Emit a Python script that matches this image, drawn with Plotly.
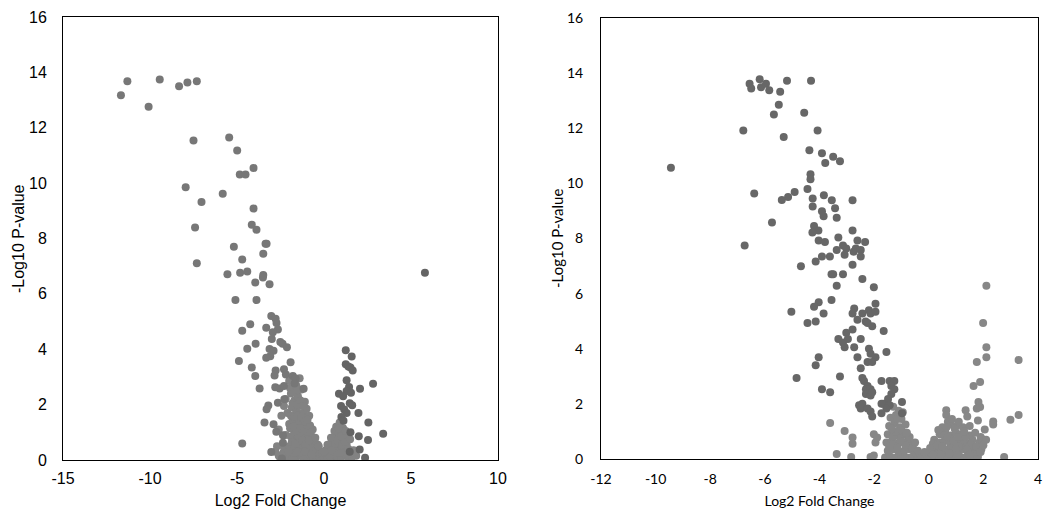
import plotly.graph_objects as go

# ---------------- Left panel data ----------------
left_mid_x = [-11.67, -11.3, -10.08, -9.44, -8.33, -7.85, -7.31, -7.5, -5.45, -4.99, -4.05, -4.84, -4.51,
              -7.95, -5.82, -7.04, -4.05, -7.41, -4.15, -3.88, -3.36, -3.3, -5.18, -3.49, -4.70, -7.31,
              -5.55, -4.82, -4.41, -3.49, -3.51, -3.95, -3.13, -5.09, -3.88,
              -3.03, -2.78, -2.73, -4.24, -4.70, -3.32, -2.65, -2.94, -3.0, -2.51, -2.38, -2.13, -4.41,
              -3.93, -3.13, -2.9, -3.09, -3.32, -4.89, -1.92, -4.15, -3.95, -2.78, -2.84, -2.3, -2.19,
              -1.79, -1.63, -1.69, -3.7, -2.8, -2.55, -2.3, -1.17, -2.28, -2.65, -3.2, -3.3, -3.42,
              -2.9, -2.74, -2.36, -2.36, -3.03, -2.42, -4.7]
left_mid_y = [13.17, 13.68, 12.76, 13.74, 13.5, 13.63, 13.68, 11.54, 11.65, 11.18, 10.55, 10.31, 10.31,
              9.85, 9.62, 9.32, 9.08, 8.40, 8.50, 8.32, 7.81, 7.81, 7.70, 7.45, 7.24, 7.11,
              6.71, 6.76, 6.81, 6.68, 6.59, 6.41, 6.35, 5.78, 5.78,
              5.2, 5.1, 4.95, 4.9, 4.67, 4.78, 4.71, 4.61, 4.37, 4.26, 4.2, 4.07, 4.02,
              4.2, 4.01, 3.95, 3.75, 3.69, 3.58, 3.53, 3.34, 3.03, 3.23, 3.05, 3.28, 3.09,
              3.03, 2.94, 2.76, 2.58, 2.63, 2.58, 2.67, 2.57, 2.19, 2.07, 1.97, 1.83, 1.35,
              1.29, 1.02, 0.89, 0.62, 0.29, 0.05, 0.6]

left_dark_x = [5.80, 1.25, 1.59, 1.25, 1.4, 1.52, 1.65, 1.3, 1.44, 1.3, 2.07, 2.82, 1.55, 0.86, 1.1,
               1.48, 1.62, 0.98, 1.16, 1.3, 1.0, 1.12, 1.98, 2.55, 3.4, 2.0, 2.53, 1.52, 2.36, 1.48, 2.05]
left_dark_y = [6.76, 3.96, 3.74, 3.46, 3.38, 3.34, 3.23, 2.88, 2.64, 2.49, 2.57, 2.75, 2.43, 2.39, 2.3,
               2.05, 1.98, 1.95, 1.82, 1.7, 1.55, 1.42, 1.7, 1.35, 0.95, 0.86, 0.72, 1.0, 0.08, 0.3, 0.38]

left_light_x = [-2.5, -2.2, -2.0, -1.8, -1.6, -1.4, -1.2, -1.0, -0.8, -0.6, -0.4, -0.2, 0.0, 0.2, 0.4,
                0.6, 0.8, 1.0, 1.2, 1.4, 1.6,
                -2.3, -2.0, -1.7, -1.5, -1.3, -1.1, -0.9, -0.7, -0.5, -0.3, 0.3, 0.5, 0.7, 0.9, 1.1, 1.3,
                -2.2, -1.9, -1.7, -1.5, -1.3, -1.1, -0.9, -0.7, -0.55, 0.5, 0.7, 0.9, 1.1, 1.3,
                -2.0, -1.8, -1.6, -1.4, -1.2, -1.0, -0.8, -0.65, 0.7, 0.9, 1.1,
                -2.1, -1.85, -1.6, -1.4, -1.2, -1.0, -0.85,
                -2.2, -1.9, -1.7, -1.5, -1.3, -1.1,
                -2.0, -1.6, -1.4,
                -1.45, -1.25, -1.05, -0.95, -1.75, -1.55, -1.15, -0.75, -0.45, -0.35, 0.15, 0.35, 0.55,
                0.75, 0.95, 1.15, -0.25, 0.45, 0.65, 0.85,
                -2.35, -2.05, -1.85, -1.65, -1.45, -1.25, -1.05, -0.85, -0.65, -1.95, -1.75, -1.55, -1.35,
                -1.15, -0.95, -0.75, -1.9, -1.7, -1.5, -1.3, -1.1, -0.95, -1.8, -1.55, -1.35, -1.2, -1.95,
                -1.75, -1.5, -2.45, -2.6, -2.7, -2.3, -0.5, -0.3, -0.1, 0.1, 0.2, 0.4, 0.45, 0.6, 0.65,
                0.85, 0.8, 1.0, 1.05, 1.2, 1.25, 1.4, 1.5, 1.7, 1.85, -2.6, -2.8, -1.5, -1.1, -0.7, 0.0,
                0.95, 1.35]
left_light_y = [0.05, 0.1, 0.15, 0.05, 0.1, 0.2, 0.05, 0.1, 0.15, 0.05, 0.1, 0.05, 0.08, 0.1, 0.05,
                0.15, 0.05, 0.1, 0.2, 0.05, 0.1,
                0.45, 0.5, 0.4, 0.55, 0.45, 0.6, 0.4, 0.5, 0.35, 0.3, 0.3, 0.5, 0.45, 0.6, 0.4, 0.55,
                0.9, 0.85, 1.0, 0.8, 0.95, 0.85, 1.0, 0.8, 0.7, 0.8, 0.95, 0.85, 1.0, 0.8,
                1.3, 1.45, 1.25, 1.4, 1.3, 1.5, 1.25, 1.1, 1.2, 1.35, 1.15,
                1.7, 1.9, 1.75, 1.95, 1.7, 1.85, 1.6,
                2.2, 2.4, 2.15, 2.3, 2.55, 2.1,
                2.85, 2.7, 2.95,
                0.25, 0.7, 0.35, 1.2, 0.25, 0.65, 1.05, 0.25, 0.2, 0.55, 0.3, 0.2, 0.3,
                0.25, 0.3, 0.65, 0.25, 0.7, 0.6, 1.0,
                0.25, 0.3, 0.65, 0.6, 0.85, 0.7, 0.55, 0.7, 0.3, 1.15, 1.2, 1.05, 1.15,
                1.05, 1.25, 1.0, 1.6, 1.55, 1.6, 1.55, 1.4, 1.45, 2.05, 2.0, 2.15, 1.95, 2.6,
                2.45, 2.55, 1.6, 1.1, 0.5, 1.95, 0.8, 0.5, 0.25, 0.35, 0.55, 0.8, 0.35, 1.05, 0.6,
                1.15, 0.7, 0.85, 0.55, 0.65, 1.05, 0.4, 0.75, 0.35, 0.15, 0.15, 0.3, 0.3, 0.3, 0.2, 0.3,
                0.25, 0.2]

# ---------------- Right panel data ----------------
right_dark_x = [-9.44, -6.79, -6.74, -6.39, -5.74, -6.56, -6.5, -6.19, -6.14, -5.96, -5.84, -5.44, -5.19,
                -4.31, -5.49, -5.67, -4.56, -4.07, -5.31, -4.37, -3.91, -3.79, -3.5, -3.25, -4.33, -4.33,
                -4.44, -4.91, -5.15, -5.38, -4.25, -3.84, -3.55, -2.79, -4.25, -3.91, -3.85, -3.43, -3.37,
                -4.2, -4.04, -4.26, -2.79, -3.31, -4.03, -3.8, -2.61, -2.33, -3.14, -3.02, -3.37, -3.08,
                -2.75, -2.67, -2.49, -2.49, -3.91, -3.62, -4.14, -4.68, -2.79, -3.56, -3.5, -3.14, -2.43,
                -3.37, -2.01, -3.56, -4.03, -4.2, -1.95, -5.03, -3.85, -2.73, -2.79, -2.43, -2.19, -2.13,
                -1.95, -2.61, -2.31, -2.07, -2.24, -4.44, -4.14, -2.79, -3.02, -2.96, -3.31, -3.14, -3.08,
                -2.49, -1.65, -2.73, -2.19, -2.13, -1.95, -2.24, -2.07, -1.55, -2.61, -4.03, -4.14, -2.49,
                -3.25, -4.84, -2.43, -2.37, -2.24, -2.3, -2.13, -2.3, -2.13, -2.07, -3.91, -3.61,
                -1.73, -1.43, -1.26, -1.37, -1.26, -1.37, -1.49, -1.66, -1.73, -1.43, -1.55, -1.73,
                -0.98, -0.98, -2.55, -2.49, -2.43, -2.24, -2.13, -2.07]
right_dark_y = [10.57, 11.92, 7.75, 9.63, 8.58, 13.61, 13.44, 13.78, 13.49, 13.61, 13.38, 13.32, 13.72,
                13.72, 12.85, 12.5, 12.56, 11.92, 11.68, 11.2, 11.09, 10.74, 10.97, 10.8, 10.33, 10.15,
                9.8, 9.69, 9.51, 9.4, 9.45, 9.57, 9.39, 9.39, 9.16, 8.99, 8.81, 9.1, 8.75,
                8.45, 8.29, 8.22, 8.29, 8.04, 7.93, 7.87, 7.93, 7.87, 7.75, 7.64, 7.58, 7.41,
                7.52, 7.64, 7.58, 7.35, 7.35, 7.35, 7.17, 6.99, 7.05, 6.7, 6.7, 6.7, 6.53,
                6.29, 6.23, 5.77, 5.69, 5.52, 5.63, 5.34, 5.28, 5.46, 5.28, 5.28, 5.4, 5.28,
                5.34, 5.05, 4.99, 4.82, 4.93, 4.93, 4.99, 4.7, 4.58, 4.35, 4.35, 4.23, 4.05,
                4.35, 4.64, 4.05, 4.0, 3.82, 3.69, 3.52, 3.52, 3.88, 3.69, 3.69, 3.4, 3.29,
                2.99, 2.94, 2.94, 2.83, 2.65, 2.53, 2.53, 2.36, 2.3, 2.42, 2.53, 2.42,
                2.83, 2.83, 2.83, 2.65, 2.53, 2.36, 2.18, 2.0, 2.0, 1.95, 1.83, 1.66,
                2.07, 1.66, 1.95, 1.83, 2.0, 1.83, 1.72, 1.54]

right_light_x = [2.11, 1.99, 2.11, 2.11, 1.76, 3.29, 1.88, 1.64, 1.82, 1.76, 1.88, 1.35, 1.41, 0.64, 0.64,
                 3.29, 2.99, 2.36, 2.36, 2.05, 1.99, 2.76, 1.93,
                 -3.61, -3.08, -2.79, -2.79, -3.37, -2.84, -2.01, -1.95, -1.89, -2.13, -2.01,
                 -1.6, -1.4, -1.2, -1.0, -0.8, -0.6, -0.4, -0.2, 0.0, 0.2, 0.4, 0.6, 0.8, 1.0, 1.2, 1.4, 1.6, 1.8,
                 -1.5, -1.3, -1.1, -0.9, -0.7, -0.5, 0.1, 0.3, 0.5, 0.7, 0.9, 1.1, 1.3, 1.5, 1.7,
                 -1.55, -1.35, -1.15, -0.95, -0.75, -0.55, 0.2, 0.4, 0.6, 0.8, 1.0, 1.2, 1.4, 1.6, 1.85,
                 -1.5, -1.3, -1.1, -0.9, -0.7, 0.4, 0.6, 0.8, 1.0, 1.2, 1.5, 1.7, 1.9, 2.1,
                 -1.45, -1.25, -1.05, -0.85, 0.5, 0.8, 1.0, 1.25, 1.5,
                 -1.4, -1.2, -1.0, 0.7, 1.8,
                 -1.1, -0.95, -1.25, -1.05, -0.65, -0.45, -0.3, 0.25, 0.45, 0.9, 1.1, 1.3, 0.15, 0.55, 1.65,
                 -1.45, -1.3, -1.15, -1.0, -0.85, -0.6, -0.4, -0.15, 0.05, 0.3, 0.5, 0.7, 0.9, 1.1, 1.35,
                 1.55, 1.75, 0.6, 1.0, 1.4, -1.2, -1.0, -0.8, -1.35, 0.35, 0.65, 0.95, 1.1, 1.3, 0.85,
                 -1.3, -1.15, 0.15, 0.45, 0.75, 1.05, 1.5, 1.9, 2.0, -0.5]
right_light_y = [6.29, 4.93, 4.05, 3.69, 3.52, 3.59, 2.79, 2.65, 2.07, 1.83, 1.89, 1.77, 1.54, 1.77, 1.6,
                 1.6, 1.42, 1.36, 1.25, 1.07, 0.71, 0.07, 0.36,
                 1.31, 1.02, 0.78, 0.55, 0.18, 0.07, 0.9, 0.6, 0.78, 0.07, 0.13,
                 0.05, 0.08, 0.05, 0.1, 0.05, 0.08, 0.05, 0.1, 0.05, 0.08, 0.05, 0.1, 0.05, 0.08, 0.05, 0.1, 0.05, 0.08,
                 0.3, 0.35, 0.25, 0.3, 0.35, 0.25, 0.2, 0.3, 0.25, 0.35, 0.3, 0.25, 0.35, 0.3, 0.25,
                 0.6, 0.65, 0.55, 0.6, 0.7, 0.55, 0.7, 0.6, 0.65, 0.55, 0.7, 0.6, 0.55, 0.7, 0.6,
                 0.9, 0.95, 0.85, 0.9, 0.8, 0.9, 1.0, 0.85, 0.95, 0.9, 0.85, 0.95, 0.8, 0.7,
                 1.2, 1.3, 1.15, 1.25, 1.15, 1.25, 1.2, 1.15, 1.2,
                 1.5, 1.6, 1.45, 1.35, 1.4,
                 1.75, 1.7, 0.45, 0.75, 0.45, 0.2, 0.15, 0.45, 0.4, 0.45, 0.45, 0.7, 0.55, 0.85, 0.45,
                 0.45, 0.8, 0.4, 0.65, 0.5, 0.4, 0.3, 0.25, 0.4, 0.5, 0.45, 0.8, 0.65, 0.8, 0.8,
                 0.5, 0.45, 0.25, 0.35, 0.35, 1.0, 1.05, 0.95, 1.1, 1.05, 1.15, 1.1, 1.35, 1.0, 1.45,
                 1.9, 1.45, 0.15, 0.15, 0.2, 0.15, 0.15, 0.25, 0.5, 0.6]

x_ticks_left = [-15, -10, -5, 0, 5, 10]
x_ticks_right = [-12, -10, -8, -6, -4, -2, 0, 2, 4]
y_ticks = [0, 2, 4, 6, 8, 10, 12, 14, 16]
x_title = "Log2 Fold Change"
y_title = "-Log10 P-value"

W, H = 1047, 515
fig = go.Figure()

def add(x, y, color, xa, ya):
    fig.add_trace(go.Scatter(x=x, y=y, mode="markers", xaxis=xa, yaxis=ya, showlegend=False,
                             marker=dict(size=8, color=color, line=dict(width=0)), cliponaxis=True))

add(left_light_x, left_light_y, "#828282", "x", "y")
add(left_mid_x, left_mid_y, "#777777", "x", "y")
add(left_dark_x, left_dark_y, "#646464", "x", "y")
add(right_light_x, right_light_y, "#878787", "x2", "y2")
add(right_dark_x, right_dark_y, "#676767", "x2", "y2")

lfont = dict(family="Liberation Sans, Arial", size=16, color="#000000")
rfont = dict(family="Lato, Calibri", size=14, color="#000000")
rtitle_y = dict(family="Lato, Calibri", size=15, color="#000000")

def ax_common():
    return dict(showgrid=False, zeroline=False, showline=True, linecolor="#000000", linewidth=1,
                mirror=True, ticks="", fixedrange=True, automargin=False)

def labels(v):
    return [str(t) for t in v]

fig.update_layout(
    width=W, height=H, margin=dict(l=0, r=0, t=0, b=0),
    paper_bgcolor="#ffffff", plot_bgcolor="#ffffff",
    xaxis=dict(domain=[63 / W, 498 / W], range=[-15, 10], tickvals=x_ticks_left,
               ticktext=labels(x_ticks_left), tickfont=lfont,
               title=dict(text=x_title, font=lfont, standoff=8), anchor="y",
               ticklabelstandoff=4, **ax_common()),
    yaxis=dict(domain=[(H - 460) / H, (H - 17) / H], range=[0, 16], tickvals=y_ticks,
               ticktext=labels(y_ticks), tickfont=lfont, anchor="x",
               ticklabelstandoff=12, **ax_common()),
    xaxis2=dict(domain=[601 / W, 1038 / W], range=[-12, 4], tickvals=x_ticks_right,
                ticktext=labels(x_ticks_right), tickfont=rfont,
                title=dict(text=x_title, font=rfont, standoff=10), anchor="y2",
                ticklabelstandoff=7, **ax_common()),
    yaxis2=dict(domain=[(H - 459) / H, (H - 18) / H], range=[0, 16], tickvals=y_ticks,
                ticktext=labels(y_ticks), tickfont=rfont, anchor="x2",
                ticklabelstandoff=14, **ax_common()),
    annotations=[
        dict(text=y_title, font=lfont, textangle=-90, xref="paper", yref="paper",
             x=18 / W, y=(H - 239) / H, xanchor="center", yanchor="middle", showarrow=False),
        dict(text=y_title, font=rtitle_y, textangle=-90, xref="paper", yref="paper",
             x=557 / W, y=(H - 239) / H, xanchor="center", yanchor="middle", showarrow=False),
    ],
)

fig.write_html("out.html")
